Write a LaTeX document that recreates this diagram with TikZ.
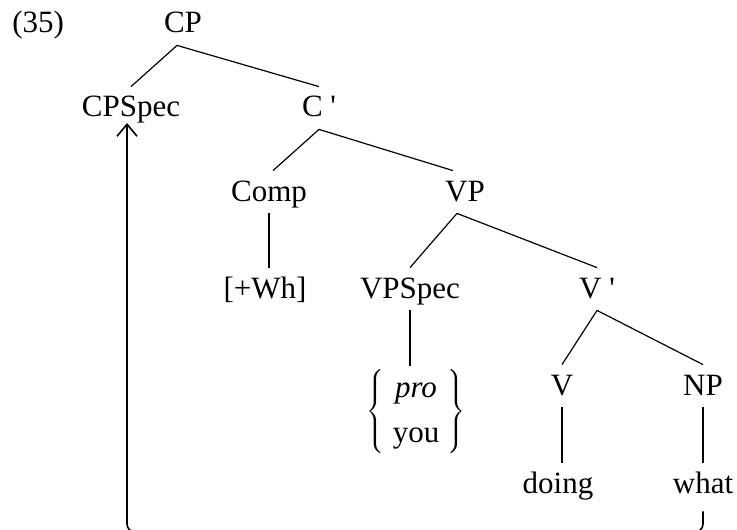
\documentclass[tikz,border=0pt]{standalone}
\usepackage{fontspec}
\setmainfont{Liberation Serif}
\usetikzlibrary{arrows.meta}

\begin{document}
\begin{tikzpicture}[
  x=0.5pt, y=-0.5pt,
  cat/.style={anchor=base, font=\fontsize{15.5}{18.6}\selectfont,
    inner xsep=1pt, inner ysep=4.5pt, text height=10.5pt, text depth=1.5pt},
  branch/.style={line width=0.6pt},
  stem/.style={line width=1pt},
  move/.style={line width=0.8pt, rounded corners=4pt,
    -{Straight Barb[length=6pt,width=10pt]}}
]
\useasboundingbox (0,0) rectangle (737,529);

% example number
\node[cat, anchor=base west] (ex) at (10,33) {(35)};

% tree labels
\node[cat] (CP) at (183,33) {CP};
\node[cat] (CPSpec) at (131,117) {CPSpec};
\node[cat] (Cbar) at (319,117) {C~\textquotesingle};
\node[cat] (Comp) at (269,201) {Comp};
\node[cat] (VP) at (465,201) {VP};
\node[cat] (Wh) at (265,298) {[+Wh]};
\node[cat] (VPSpec) at (410,298) {VPSpec};
\node[cat] (Vbar) at (597,298) {V~\textquotesingle};
\node[cat] (V) at (562,395) {V};
\node[cat] (NP) at (703,395) {NP};
\node[cat] (doing) at (558,493) {doing};
\node[cat] (what) at (703,493) {what};
\node[
      font=\fontsize{15.5}{18.6}\selectfont,
      inner sep=0pt,
      anchor=north
] (subj) at (416,366) {$\left\{\renewcommand{\arraystretch}{1.2}\setlength{\tabcolsep}{4pt}\begin{tabular}{c}\textit{pro}\\you\end{tabular}\right\}$};

% branches
\draw[branch] ([xshift=-3pt]CP.south) -- (CPSpec.north);
\draw[branch] ([xshift=-3pt]CP.south) -- (Cbar.north);
\draw[branch] (Cbar.south) -- ([xshift=2pt]Comp.north);
\draw[branch] (Cbar.south) -- ([xshift=-6pt]VP.north);
\draw[branch] ([xshift=-4pt]VP.south) -- (VPSpec.north);
\draw[branch] ([xshift=-4pt]VP.south) -- (Vbar.north);
\draw[branch] (Vbar.south) -- (V.north);
\draw[branch] (Vbar.south) -- (NP.north);

% unary stems
\draw[stem] (Comp.south) -- (Comp.south |- Wh.north);
\draw[stem] (VPSpec.south) -- (VPSpec.south |- subj.north);
\draw[stem] (V.south) -- (V.south |- doing.north);
\draw[stem] (NP.south) -- (NP.south |- what.north);

% movement of what to CPSpec (bottom run lies just below the page edge)
\coordinate (bend) at (127,532);
\draw[move] ([yshift=-3pt]what.south) |- (bend) -- ([yshift=-3pt]bend |- CPSpec.base);
\end{tikzpicture}
\end{document}
